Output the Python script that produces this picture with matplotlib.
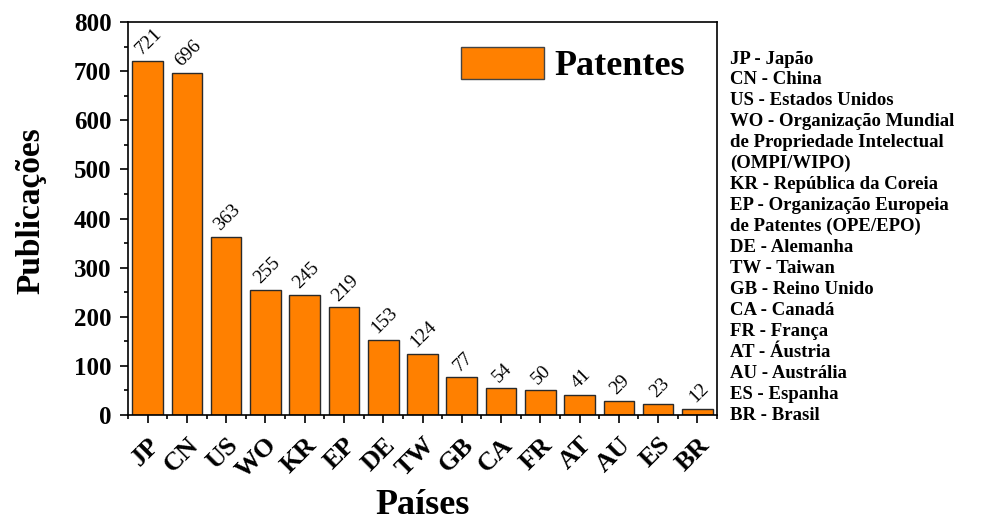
import matplotlib
matplotlib.use("Agg")
import matplotlib.pyplot as plt
from matplotlib.ticker import MultipleLocator, FixedLocator

plt.rcParams['font.family'] = ['Liberation Serif', 'DejaVu Serif']

countries = ["JP", "CN", "US", "WO", "KR", "EP", "DE", "TW", "GB", "CA", "FR", "AT", "AU", "ES", "BR"]
values = [721, 696, 363, 255, 245, 219, 153, 124, 77, 54, 50, 41, 29, 23, 12]
legend_lines = [
    "JP - Japão",
    "CN - China",
    "US - Estados Unidos",
    "WO - Organização Mundial",
    "de Propriedade Intelectual",
    "(OMPI/WIPO)",
    "KR - República da Coreia",
    "EP - Organização Europeia",
    "de Patentes (OPE/EPO)",
    "DE - Alemanha",
    "TW - Taiwan",
    "GB - Reino Unido",
    "CA - Canadá",
    "FR - França",
    "AT - Áustria",
    "AU - Austrália",
    "ES - Espanha",
    "BR - Brasil",
]

fig = plt.figure(figsize=(9.85, 5.25), dpi=100)
ax = fig.add_axes([128/985, 1 - 415/525, (717-128)/985, (415-22)/525])

x = list(range(len(countries)))
bars = ax.bar(x, values, width=0.78, color="#FF8000", edgecolor="#2a2a2a", linewidth=1.0, label="Patentes")

for xi, v in zip(x, values):
    ax.annotate(str(v), (xi, v), xytext=(1, 2), textcoords="offset points",
                rotation=45, ha="center", va="bottom", fontsize=14)

ax.set_xlim(-0.5, len(countries) - 0.5)
ax.set_ylim(0, 800)
ax.yaxis.set_major_locator(MultipleLocator(100))
ax.yaxis.set_minor_locator(MultipleLocator(50))
ax.set_xticks(x)
ax.set_xticklabels(countries, rotation=45, ha="right", va="top", rotation_mode="anchor",
                   fontsize=19, fontweight="bold")
ax.xaxis.set_minor_locator(FixedLocator([i + 0.5 for i in range(-1, len(countries))]))
ax.tick_params(axis="both", which="major", direction="out", length=6, width=1.2)
ax.tick_params(axis="both", which="minor", direction="out", length=3, width=1.2)
ax.tick_params(axis="x", which="major", pad=7)
ax.tick_params(axis="y", which="major", pad=6)
for lab in ax.get_yticklabels():
    lab.set_fontsize(18)
    lab.set_fontweight("bold")
for s in ax.spines.values():
    s.set_linewidth(1.2)

ax.set_ylabel("Publicações", fontsize=24, fontweight="bold")
ax.yaxis.set_label_coords(-0.165, 0.52)
ax.yaxis.label.set_va("center")
ax.set_xlabel("Países", fontsize=26, fontweight="bold")
ax.xaxis.set_label_coords(0.5, -0.23)
ax.xaxis.label.set_va("center")

leg = ax.legend(loc="upper right", frameon=False, prop={"weight": "bold", "size": 26},
                handlelength=2.3, handleheight=1.0, handletextpad=0.3,
                bbox_to_anchor=(0.995, 1.01), borderpad=0.3)
for p in leg.get_patches():
    p.set_edgecolor("#444444")

y0 = 1 - 59/525
dy = (415 - 59) / 17 / 525
for i, line in enumerate(legend_lines):
    fig.text(730/985, y0 - i*dy, line, fontsize=13.5, fontweight="bold", ha="left", va="center")

fig.savefig("out.png", dpi=100)
